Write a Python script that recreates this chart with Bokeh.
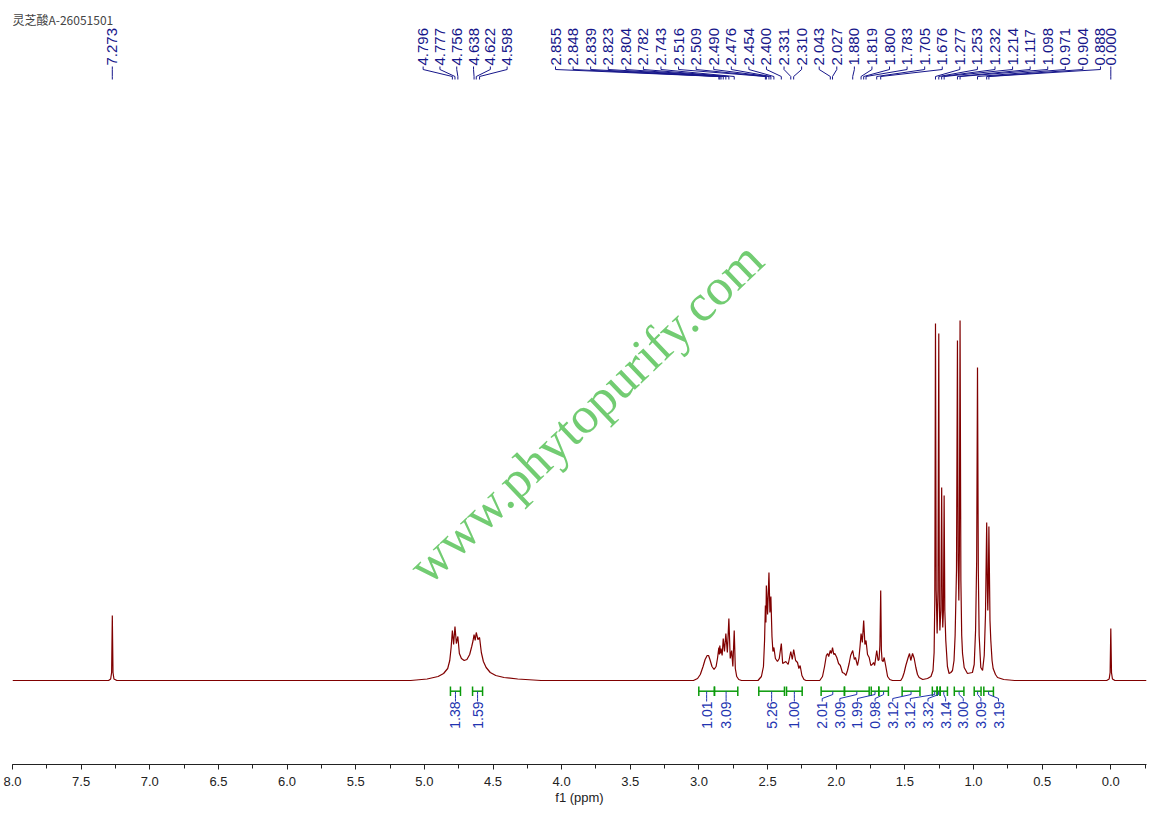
import math
from bokeh.plotting import figure
from bokeh.models import Range1d, SingleIntervalTicker, PrintfTickFormatter, Label
from bokeh.core.properties import value
from bokeh.embed import file_html
from bokeh.resources import INLINE

# ---------------- data ----------------
title_text = "灵芝酸A-26051501"
watermark_text = "www.phytopurify.com"
axis_title = "f1 (ppm)"

# spectrum trace vertices (ppm, intensity)
trace_ppm = [8.00, 7.30, 7.285, 7.278, 7.273, 7.268, 7.261, 7.24,
             5.10, 4.98, 4.90, 4.86, 4.83, 4.815, 4.805, 4.796, 4.787, 4.777, 4.767, 4.756, 4.745,
             4.73, 4.71, 4.69, 4.67, 4.655, 4.645, 4.638, 4.63, 4.622, 4.61, 4.598, 4.585, 4.57,
             4.55, 4.52, 4.48, 4.42, 4.32, 4.15,
             3.04, 3.01, 2.99, 2.97, 2.955, 2.94, 2.93, 2.92, 2.905, 2.89, 2.875, 2.865,
             2.855, 2.851, 2.848, 2.843, 2.839, 2.831, 2.823, 2.814, 2.804, 2.793, 2.782, 2.772,
             2.762, 2.753, 2.743, 2.735, 2.725, 2.71, 2.69,
             2.57, 2.545, 2.53, 2.522, 2.516, 2.512, 2.509, 2.50, 2.490, 2.483, 2.476, 2.468,
             2.461, 2.454, 2.443, 2.428, 2.415, 2.400, 2.39, 2.367, 2.35, 2.331, 2.32, 2.310,
             2.296, 2.282, 2.272, 2.263, 2.25, 2.235, 2.22,
             2.12, 2.10, 2.085, 2.072, 2.063, 2.055, 2.043, 2.035, 2.027, 2.018, 2.010, 1.996,
             1.983, 1.97, 1.955, 1.94, 1.93, 1.918, 1.906, 1.895, 1.880, 1.868, 1.86, 1.845,
             1.835, 1.826, 1.819, 1.81, 1.800, 1.791, 1.783, 1.772, 1.76, 1.748, 1.738, 1.728,
             1.72, 1.712, 1.705, 1.695, 1.688, 1.682, 1.676, 1.671, 1.666, 1.658, 1.651, 1.64,
             1.626, 1.61, 1.59,
             1.53, 1.517, 1.505, 1.493, 1.476, 1.466, 1.457, 1.444, 1.432, 1.42, 1.408, 1.396,
             1.37, 1.335, 1.31, 1.295, 1.287, 1.282, 1.277, 1.272, 1.265, 1.259, 1.253, 1.249,
             1.245, 1.238, 1.232, 1.227, 1.224, 1.219, 1.214, 1.209, 1.202, 1.19, 1.178, 1.165,
             1.153, 1.142, 1.134, 1.124, 1.117, 1.112, 1.107, 1.103, 1.098, 1.092, 1.086, 1.08,
             1.068, 1.044, 1.008, 0.995, 0.985, 0.977, 0.971, 0.965, 0.959, 0.947, 0.934, 0.922,
             0.913, 0.904, 0.899, 0.896, 0.892, 0.888, 0.88, 0.874, 0.865, 0.857, 0.84, 0.825,
             0.78, 0.70,
             0.03, 0.012, 0.005, 0.0, -0.005, -0.012, -0.03, -0.26]
trace_int = [0, 0, 1.5, 8, 65, 8, 1.5, 0,
             0, 1.5, 4, 7, 12, 20, 33, 50, 36, 54, 37, 44, 27,
             22, 20, 21, 26, 34, 40, 46, 40, 48, 41, 43, 28, 19,
             13, 8, 5, 3, 1.5, 0,
             0, 2, 6, 14, 21, 25, 25, 21, 14, 11, 14, 22,
             33, 26, 35, 27, 32, 25, 42, 29, 47, 28, 62, 22,
             30, 14, 50, 12, 4, 1, 0,
             0, 4, 14, 40, 75, 58, 95, 66, 108, 68, 84, 44,
             29, 33, 22, 19, 22, 37, 17, 19, 16, 29, 21, 31,
             20, 18, 12, 15, 5, 1, 0,
             0, 4, 14, 25, 27, 24, 30, 27, 33, 26, 27, 23,
             17, 15, 8, 7, 5, 10, 17, 25, 30, 21, 23, 15,
             22, 35, 47, 38, 60, 36, 40, 26, 23, 15, 16, 18,
             15, 23, 30, 20, 21, 35, 90, 30, 20, 19, 23, 15,
             4, 1, 0,
             0, 3, 8, 15, 23, 27, 20, 27, 22, 13, 6, 3,
             1, 2, 4, 10, 28, 80, 357, 90, 47, 90, 347, 80,
             50, 70, 193, 70, 53, 70, 185, 70, 40, 14, 7, 8,
             10, 20, 45, 110, 340, 120, 80, 130, 360, 100, 45, 27,
             13, 7, 8, 16, 50, 120, 313, 110, 45, 13, 10, 25,
             65, 158, 90, 70, 95, 154, 60, 40, 20, 12, 6, 3,
             1, 0,
             0, 1.5, 8, 52, 8, 1.5, 0, 0]

# peak pick labels (ppm)
peak_labels = [7.273,
               4.796, 4.777, 4.756, 4.638, 4.622, 4.598,
               2.855, 2.848, 2.839, 2.823, 2.804, 2.782, 2.743, 2.516, 2.509, 2.490, 2.476,
               2.454, 2.400, 2.331, 2.310, 2.043, 2.027, 1.880, 1.819, 1.800, 1.783, 1.705,
               1.676, 1.277, 1.253, 1.232, 1.214, 1.117, 1.098, 0.971, 0.904, 0.888,
               0.000]

# integrals
integral_values = [1.38, 1.59, 1.01, 3.09, 5.26, 1.00, 2.01, 3.09, 1.99, 0.98,
                   3.12, 3.12, 3.32, 3.14, 3.00, 3.09, 3.19]
integral_start = [4.810, 4.649, 3.001, 2.887, 2.564, 2.362, 2.110, 1.940, 1.745, 1.690,
                  1.520, 1.300, 1.265, 1.243, 1.140, 0.995, 0.925]
integral_end = [4.737, 4.576, 2.887, 2.717, 2.377, 2.248, 1.940, 1.760, 1.690, 1.620,
                1.390, 1.265, 1.243, 1.190, 1.070, 0.945, 0.855]

# ---------------- layout ----------------
X_START, X_END = 8.0, -0.26
FRAME_W, FRAME_H = 1134, 756
PX = FRAME_W / (X_START - X_END)
Y_MIN, Y_MAX = -84, 672

peak_group_sizes = [1, 6, 32, 1]
peak_group_center = [7.273, 4.703, 2.060, 0.0]
peak_group_spacing = [0, 16.8, 17.58, 0]

int_group_sizes = [1, 1, 1, 1, 1, 1, 11]
int_group_center = [None, None, None, None, None, None, 1.460]
int_group_spacing = 17.63

LABEL_BLUE = "#16168a"
INT_BLUE = "#2233b0"
GREEN = "#0a9a0a"

p = figure(frame_width=FRAME_W, frame_height=FRAME_H,
           x_range=Range1d(X_START, X_END), y_range=Range1d(Y_MIN, Y_MAX),
           output_backend="svg", toolbar_location=None, y_axis_location=None,
           min_border_left=12, min_border_right=1, min_border_top=8, min_border_bottom=0)
p.outline_line_color = None
p.grid.visible = False

xa = p.xaxis[0]
xa.ticker = SingleIntervalTicker(interval=0.5, num_minor_ticks=2)
xa.formatter = PrintfTickFormatter(format="%.1f")
xa.axis_label = axis_title
xa.axis_label_text_font = "Liberation Sans"
xa.axis_label_text_font_style = "normal"
xa.axis_label_text_font_size = "13px"
xa.axis_label_text_color = "#222222"
xa.axis_label_standoff = 1
xa.major_label_text_font = "Liberation Sans"
xa.major_label_text_font_size = "13px"
xa.major_label_text_color = "#222222"
xa.major_label_standoff = 7
xa.major_tick_in = 0
xa.major_tick_out = 5
xa.minor_tick_in = 0
xa.minor_tick_out = 4
xa.axis_line_color = "#222222"
xa.major_tick_line_color = "#222222"
xa.minor_tick_line_color = "#222222"

# watermark
p.add_layout(Label(x=3.826, y=268, text=watermark_text, angle=43.7, angle_units="deg",
                   text_align="center", text_baseline="middle",
                   text_font="Liberation Serif", text_font_size="52px",
                   text_color="#72cc72"))

# spectrum
p.line(trace_ppm, trace_int, line_color="#800000", line_width=1.2)

# title
p.add_layout(Label(x=X_START, y=661.5, text=title_text, text_align="left",
                   text_baseline="middle", text_font="Noto Sans CJK SC",
                   text_font_size="12px", text_color="#444444"))

# peak labels
slots = []
for n, c, sp in zip(peak_group_sizes, peak_group_center, peak_group_spacing):
    for i in range(n):
        slots.append(c - (i - (n - 1) / 2) * sp / PX)
p.text(x=slots, y=[615] * len(slots), text=[f"{v:.3f}" for v in peak_labels],
       angle=math.pi / 2, text_align="left", text_baseline="middle",
       text_font=value("Liberation Sans"), text_font_size="15px", text_color=LABEL_BLUE)
p.multi_line(xs=[[s, s, pk, pk] for s, pk in zip(slots, peak_labels)],
             ys=[[614, 611, 604, 601]] * len(slots), line_color=LABEL_BLUE, line_width=1)

# integrals
centers = [(a + b) / 2 for a, b in zip(integral_start, integral_end)]
islots = []
k = 0
for n, c in zip(int_group_sizes, int_group_center):
    cc = centers[k] if c is None else c
    for i in range(n):
        islots.append(cc - (i - (n - 1) / 2) * int_group_spacing / PX)
    k += n
bar_y = -10.7
p.segment(x0=integral_start, y0=[bar_y] * len(centers), x1=integral_end, y1=[bar_y] * len(centers),
          line_color=GREEN, line_width=1.5)
p.segment(x0=integral_start + integral_end, y0=[-6] * (2 * len(centers)),
          x1=integral_start + integral_end, y1=[-15.5] * (2 * len(centers)),
          line_color=GREEN, line_width=1.5)
p.multi_line(xs=[[c, c, s, s] for c, s in zip(centers, islots)],
             ys=[[-11, -14, -18, -21]] * len(centers), line_color=INT_BLUE, line_width=1)
p.text(x=islots, y=[-21] * len(islots), text=[f"{v:.2f}" for v in integral_values],
       angle=math.pi / 2, text_align="right", text_baseline="middle",
       text_font=value("Liberation Sans"), text_font_size="14px", text_color=INT_BLUE)

open("out.html", "w").write(file_html(p, INLINE))
